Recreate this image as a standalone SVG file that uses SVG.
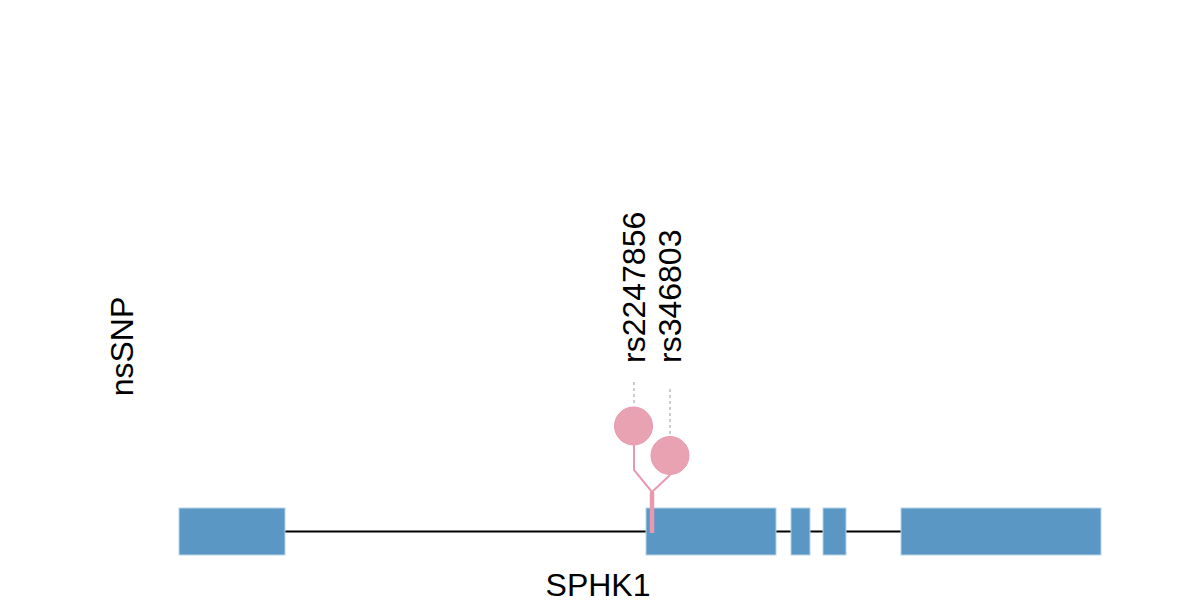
<svg xmlns="http://www.w3.org/2000/svg" width="1200" height="600" viewBox="0 0 1200 600">
<style>
.exon{fill:#5b97c4;stroke:#b8d3e6;stroke-width:1}
.intron{stroke:#000;stroke-width:2;fill:none}
.stem{stroke:#e899b0;stroke-width:2;fill:none}
.dash{stroke:#bbbbbb;stroke-width:1.5;stroke-dasharray:3 3;fill:none}
.head{fill:#e8a2b2;stroke:#e899b0;stroke-width:1}
text{font-family:"Liberation Sans",Arial,sans-serif;font-size:32px;fill:#000}
</style>
<rect width="1200" height="600" fill="#fff"/>
<g id="gene">
<line class="intron" x1="285" y1="531.5" x2="901" y2="531.5"/>
<rect class="exon" x="179" y="508" width="106" height="47"/>
<rect class="exon" x="646" y="508" width="130" height="47"/>
<rect class="exon" x="791" y="508" width="19" height="47"/>
<rect class="exon" x="823" y="508" width="23" height="47"/>
<rect class="exon" x="901" y="508" width="200" height="47"/>
<text x="598" y="595.5" text-anchor="middle">SPHK1</text>
</g>
<g id="connectors">
<line x1="652" y1="492" x2="652" y2="533" stroke="#e899b0" stroke-width="4.5"/>
<polyline class="stem" points="634,445 634,470 652,492"/>
<polyline class="stem" points="670,475 652,492"/>
<line class="dash" x1="634" y1="382" x2="634" y2="406"/>
<line class="dash" x1="670" y1="389" x2="670" y2="436"/>
</g>
<g id="snp1">
<circle class="head" cx="633.5" cy="426" r="19"/>
<text transform="translate(645,363) rotate(-90)">rs2247856</text>
</g>
<g id="snp2">
<circle class="head" cx="670" cy="455.5" r="19"/>
<text transform="translate(681,363) rotate(-90)">rs346803</text>
</g>
<g id="ylabel">
<text transform="translate(133,346.5) rotate(-90)" text-anchor="middle">nsSNP</text>
</g>
</svg>
